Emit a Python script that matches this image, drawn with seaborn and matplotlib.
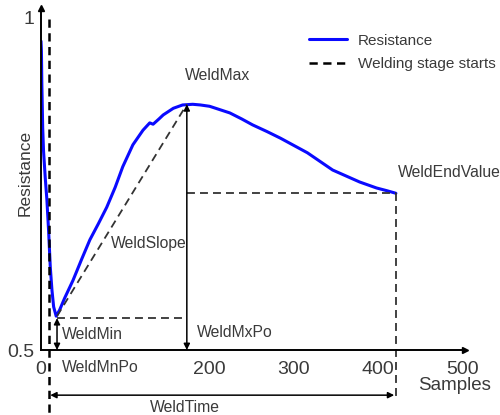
import matplotlib
matplotlib.use("Agg")
import matplotlib.pyplot as plt
import seaborn as sns
import pandas as pd

# ---- data ----
samples = [0, 0.5, 1, 2, 3, 5, 7, 9, 11, 13, 15, 18, 22, 28, 38, 48, 58, 68, 78,
           88, 97, 109, 121, 129, 133, 140, 145, 157, 168, 180, 189, 200,
           212, 224, 238, 251, 268, 284, 300, 316, 331, 346, 362, 378, 398, 410, 421]
resistance = [0.965, 0.95, 0.90, 0.835, 0.80, 0.76, 0.726, 0.68, 0.625, 0.59, 0.565,
              0.551, 0.560, 0.578, 0.605, 0.636, 0.666, 0.690, 0.715, 0.745,
              0.776, 0.809, 0.831, 0.842, 0.840, 0.848, 0.854, 0.864, 0.869,
              0.870, 0.869, 0.867, 0.862, 0.857, 0.848, 0.839, 0.829, 0.819, 0.808,
              0.797, 0.784, 0.771, 0.762, 0.753, 0.744, 0.740, 0.736]

stage_start = 9
weld_min = 0.548
weld_min_pos = 19
weld_max = 0.870
weld_max_pos = 173
weld_end_value = 0.736
weld_end_pos = 421

x_ticks = [0, 100, 200, 300, 400, 500]
x_tick_labels = ["0", "", "200", "300", "400", "500"]
y_ticks = [0.5, 1.0]
y_tick_labels = ["0.5", "1"]

# ---- plotting ----
sns.set_theme(style="white")
plt.rcParams['font.family'] = ['Liberation Sans', 'DejaVu Sans']
txt = "#3a3a3a"

fig = plt.figure(figsize=(5, 4.15), dpi=100)
ax = fig.add_axes([41/500, 65/415, 424/500, 342/415])

df = pd.DataFrame({"Samples": samples, "Resistance": resistance})
sns.lineplot(data=df, x="Samples", y="Resistance", color="#0a0aff", lw=2.2,
             label="Resistance", ax=ax, sort=False)
ax.plot([stage_start, stage_start], [0.998, 0.40], color="black", lw=1.8,
        ls=(0, (3.3, 2.2)), clip_on=False, label="Welding stage starts")

dash_kw = dict(color="#333333", lw=1.3, ls=(0, (4.4, 2.8)), clip_on=False)
# WeldMin horizontal
ax.plot([weld_min_pos, weld_max_pos], [weld_min, weld_min], **dash_kw)
# WeldSlope diagonal
ax.plot([weld_min_pos, weld_max_pos], [0.551, weld_max], **dash_kw)
# WeldEndValue horizontal
ax.plot([weld_max_pos, weld_end_pos], [weld_end_value, weld_end_value], **dash_kw)
# end vertical
ax.plot([weld_end_pos, weld_end_pos], [weld_end_value, 0.43], **dash_kw)

arrow_kw = dict(arrowstyle="<|-|>", color="black", lw=1.1, mutation_scale=9,
                shrinkA=0, shrinkB=0)
ax.annotate("", xy=(weld_min_pos, 0.5), xytext=(weld_min_pos, weld_min),
            arrowprops=arrow_kw, annotation_clip=False)
ax.annotate("", xy=(weld_max_pos, 0.5), xytext=(weld_max_pos, weld_max),
            arrowprops=arrow_kw, annotation_clip=False)
ax.annotate("", xy=(stage_start + 2, 0.432), xytext=(weld_end_pos - 2, 0.432),
            arrowprops=arrow_kw, annotation_clip=False)

fs = 11.3
ax.text(25, 0.523, "WeldMin", fontsize=fs, color=txt, va="center", ha="left")
ax.text(25, 0.474, "WeldMnPo", fontsize=fs, color=txt, va="center", ha="left",
        clip_on=False)
ax.text(185, 0.527, "WeldMxPo", fontsize=fs, color=txt, va="center", ha="left")
ax.text(171, 0.914, "WeldMax", fontsize=fs, color=txt, va="center", ha="left")
ax.text(128, 0.660, "WeldSlope", fontsize=fs, color=txt, va="center", ha="center")
ax.text(423, 0.768, "WeldEndValue", fontsize=fs, color=txt, va="center", ha="left",
        clip_on=False)
ax.text(171, 0.413, "WeldTime", fontsize=fs, color=txt, va="center", ha="center",
        clip_on=False)
ax.text(491, 0.447, "Samples", fontsize=13.5, color=txt, va="center", ha="center",
        clip_on=False)

ax.set_xlim(0, 503)
ax.set_ylim(0.5, 1.015)
ax.set_xticks(x_ticks)
ax.set_xticklabels(x_tick_labels)
ax.set_yticks(y_ticks)
ax.set_yticklabels(y_tick_labels)
ax.tick_params(axis="both", direction="in", length=3, width=1, colors="black",
               labelcolor=txt, labelsize=14)
ax.tick_params(axis="x", pad=8)
ax.tick_params(axis="y", pad=5)
ax.set_xlabel("")
ax.set_ylabel("")
ax.text(-0.038, 0.518, "Resistance", fontsize=12.5, color=txt, rotation=90,
        ha="center", va="center", transform=ax.transAxes, clip_on=False)

for s in ["top", "right"]:
    ax.spines[s].set_visible(False)
for s in ["left", "bottom"]:
    ax.spines[s].set_color("black")
    ax.spines[s].set_linewidth(1.4)
ax.plot(1, 0, ">", color="black", ms=5, transform=ax.transAxes, clip_on=False)
ax.plot(0, 1, "^", color="black", ms=5, transform=ax.transAxes, clip_on=False)

leg = ax.legend(loc="upper left", bbox_to_anchor=(295/500, 1 - 20/415),
                bbox_transform=fig.transFigure, frameon=False, fontsize=11,
                handlelength=2.5, handletextpad=0.7, labelspacing=0.6)
for t in leg.get_texts():
    t.set_color(txt)

fig.savefig("out.png", dpi=100)
